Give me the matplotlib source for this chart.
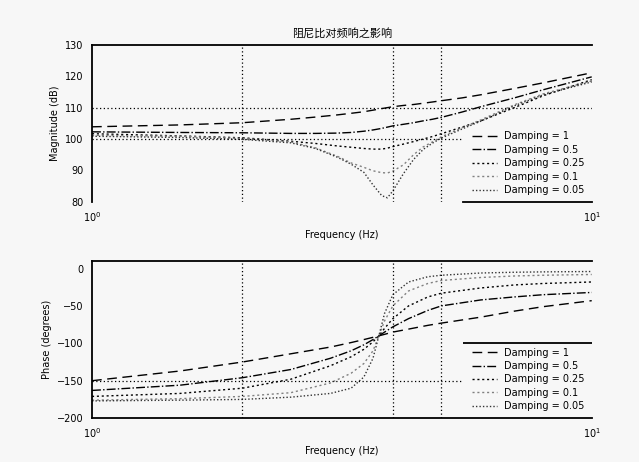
import matplotlib
matplotlib.use('Agg')
import matplotlib.pyplot as plt

# values
freq_mag = [1, 1.5, 2, 2.5, 2.8, 3.1, 3.3, 3.5, 3.65, 3.8, 3.9, 4.0, 4.2, 4.4, 4.6, 4.8, 5, 5.5, 6, 7, 8, 10]
mag_1 = [103.9, 104.5, 105.2, 106.3, 107.0, 107.7, 108.2, 108.7, 109.2, 109.7, 110.0, 110.3, 110.7, 111.0,
         111.4, 111.8, 112.2, 113.1, 114.1, 116.1, 117.9, 121.1]
mag_05 = [102.3, 102.1, 102.0, 101.8, 101.8, 101.9, 102.1, 102.5, 102.9, 103.4, 103.8, 104.2, 104.7, 105.2,
          105.8, 106.3, 106.9, 108.6, 110.3, 113.1, 115.7, 119.8]
mag_025 = [101.7, 101.0, 100.4, 99.3, 98.6, 97.8, 97.4, 97.0, 96.8, 96.8, 97.1, 97.6, 98.4, 99.2,
           100.0, 100.8, 101.7, 103.8, 105.8, 110.0, 113.8, 118.9]
mag_01 = [101.2, 100.9, 100.2, 99.1, 97.2, 94.5, 92.4, 91.0, 89.9, 89.3, 89.2, 89.8, 91.8, 95.0,
          97.5, 99.1, 100.7, 103.6, 106.1, 110.9, 114.4, 118.5]
mag_005 = [100.9, 100.5, 99.9, 98.8, 97.0, 94.2, 92.0, 89.4, 85.4, 82.0, 81.3, 83.5, 89.0, 93.5,
           96.7, 98.7, 100.3, 103.2, 105.7, 110.6, 114.1, 118.2]

freq_ph = [1, 1.5, 2, 2.5, 3, 3.3, 3.5, 3.65, 3.75, 3.85, 4, 4.3, 4.7, 5, 6, 7, 8, 10]
ph_1 = [-150, -137, -125, -114, -105, -99, -95, -92, -90, -88, -85, -81, -76, -73, -65, -57, -51, -43]
ph_05 = [-163, -156, -146, -135, -120, -110, -102, -95, -90, -85, -78, -67, -56, -50, -42, -38, -35, -32]
ph_025 = [-171, -167, -160, -148, -130, -118, -108, -98, -90, -80, -67, -50, -38, -33, -26, -22, -20, -18]
ph_01 = [-176, -174, -171, -166, -153, -140, -127, -110, -90, -70, -50, -30, -20, -16, -12, -10, -9, -8]
ph_005 = [-177, -176, -175, -172, -167, -160, -145, -120, -90, -60, -35, -18, -11, -9, -6, -5, -4.5, -4]

labels = ['Damping = 1', 'Damping = 0.5', 'Damping = 0.25', 'Damping = 0.1', 'Damping = 0.05']
styles = [((0, (7, 4)), 'black'),
          ('-.', 'black'),
          ((0, (1.5, 2)), 'black'),
          ((0, (1.5, 2)), '#808080'),
          ((0, (1, 1.5)), '#333333')]

bg = '#f7f7f7'
plt.rcParams['font.size'] = 7

fig = plt.figure(figsize=(6.39, 4.62), dpi=100, facecolor=bg)
ax1 = fig.add_axes([0.144, 0.563, 0.782, 0.340], facecolor=bg)
ax2 = fig.add_axes([0.144, 0.095, 0.782, 0.340], facecolor=bg)

for y, lab, (ls, c) in zip([mag_1, mag_05, mag_025, mag_01, mag_005], labels, styles):
    ax1.plot(freq_mag, y, linestyle=ls, color=c, lw=1, label=lab)
for y, lab, (ls, c) in zip([ph_1, ph_05, ph_025, ph_01, ph_005], labels, styles):
    ax2.plot(freq_ph, y, linestyle=ls, color=c, lw=1, label=lab)

leg_left = 5.52
for ax in (ax1, ax2):
    ax.set_xscale('log')
    ax.set_xlim(1, 10)
    ax.minorticks_off()
    ax.tick_params(direction='in', length=0, pad=6)
    ax.spines['right'].set_visible(False)
    for s in ax.spines.values():
        s.set_linewidth(1.3)
    for xv in (2, 4, 5):
        ax.axvline(xv, color='black', ls=(0, (1, 2)), lw=0.9)
    ax.set_xlabel('Frequency (Hz)')

ax1.set_ylim(80, 130)
ax1.set_yticks([80, 90, 100, 110, 120, 130])
ax1.axhline(110, color='black', ls=(0, (1, 2)), lw=0.9)
ax1.hlines(100, 1, leg_left, color='black', ls=(0, (1, 2)), lw=0.9)
ax1.spines['bottom'].set_bounds(leg_left, 10)
ax1.set_ylabel('Magnitude (dB)')
ax1.set_title('阻尼比对频响之影响', family=['Noto Sans CJK SC', 'DejaVu Sans'], fontsize=8)

ax2.set_ylim(-200, 10)
ax2.set_yticks([-200, -150, -100, -50, 0])
ax2.hlines(-150, 1, leg_left, color='black', ls=(0, (1, 2)), lw=0.9)
ax2.hlines(-100, leg_left, 10, color='black', lw=1.3)
ax2.set_ylabel('Phase (degrees)')

for ax in (ax1, ax2):
    ax.legend(loc='lower right', frameon=False, fontsize=7, handlelength=2.5,
              labelspacing=0.35, borderaxespad=0.3)

fig.savefig('out.png', dpi=100, facecolor=bg)
